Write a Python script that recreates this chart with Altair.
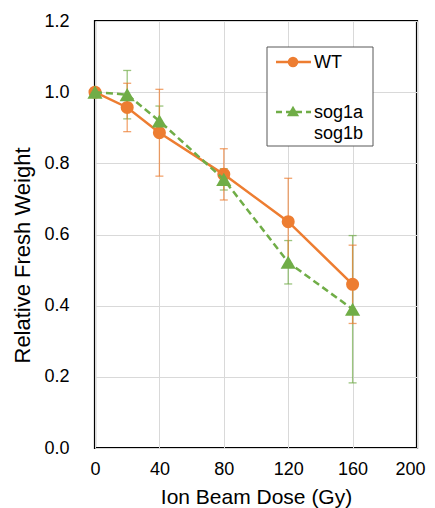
import altair as alt
import pandas as pd

dose = [0, 20, 40, 80, 120, 160]
wt = [1.0, 0.957, 0.886, 0.769, 0.636, 0.460]
wt_err = [0.0, 0.068, 0.122, 0.072, 0.122, 0.110]
sog = [1.0, 0.993, 0.919, 0.755, 0.522, 0.390]
sog_err = [0.0, 0.068, 0.042, 0.030, 0.061, 0.207]

x_ticks = [0, 40, 80, 120, 160, 200]
y_ticks = [0.0, 0.2, 0.4, 0.6, 0.8, 1.0, 1.2]

ORANGE = "#ED7D31"
GREEN = "#70AD47"
FONT = "Liberation Sans"


def frame(vals, errs):
    return pd.DataFrame({
        "dose": dose,
        "v": vals,
        "lo": [v - e for v, e in zip(vals, errs)],
        "hi": [v + e for v, e in zip(vals, errs)],
        "e": errs,
    })


df_wt = frame(wt, wt_err)
df_sog = frame(sog, sog_err)

xs = alt.Scale(domain=[0, 200], nice=False, zero=False)
ys = alt.Scale(domain=[0, 1.2], nice=False)

x_axis = alt.Axis(values=x_ticks, title="Ion Beam Dose (Gy)", grid=True, ticks=False,
                  tickSize=0, domain=False, labelPadding=12, labelFontSize=18,
                  labelFlush=False,
                  labelOffset={"condition": {"test": "datum.value == 200", "value": -7}, "value": 0},
                  titleFontSize=21, titleY=55, titleBaseline="alphabetic")
y_axis = alt.Axis(values=y_ticks, format=".1f", title="Relative Fresh Weight", grid=True,
                  ticks=False, tickSize=0, domain=False, labelPadding=26,
                  labelFontSize=18, labelFlush=False, titleFontSize=22, titleX=-66,
                  titleY=234, titleBaseline="alphabetic", titleAngle=-90)


def X():
    return alt.X("dose:Q", scale=xs, axis=x_axis)


def Y(f):
    return alt.Y(f + ":Q", scale=ys, axis=y_axis)


def series(df, color, shape, size, dash):
    base = alt.Chart(df)
    f = base.transform_filter("datum.e > 0")
    bars = f.mark_rule(color=color, strokeWidth=1.3, opacity=0.7).encode(
        x=X(), y=Y("lo"), y2="hi:Q")
    cap_lo = f.mark_tick(color=color, thickness=1.3, size=8, opacity=0.7, orient="horizontal").encode(
        x=X(), y=Y("lo"))
    cap_hi = f.mark_tick(color=color, thickness=1.3, size=8, opacity=0.7, orient="horizontal").encode(
        x=X(), y=Y("hi"))
    line_kw = dict(color=color, strokeWidth=2.5)
    if dash:
        line_kw["strokeDash"] = dash
    line = base.mark_line(**line_kw).encode(x=X(), y=Y("v"))
    pts = base.mark_point(shape=shape, size=size, filled=True, color=color, opacity=1).encode(
        x=X(), y=Y("v"))
    return bars, cap_lo, cap_hi, line, pts


wb, wl, wh, wline, wpts = series(df_wt, ORANGE, "circle", 170, None)
sb, sl, sh, sline, spts = series(df_sog, GREEN, "triangle-up", 230, [7, 4])

one = alt.Data(values=[{"a": 1}])

legend_box = alt.Chart(one).mark_rect(fill="white", stroke="#595959", strokeWidth=1).encode(
    x=alt.value(172), x2=alt.value(278), y=alt.value(26), y2=alt.value(125))
leg_wt_line = alt.Chart(one).mark_rule(color=ORANGE, strokeWidth=2.5).encode(
    x=alt.value(181), x2=alt.value(216), y=alt.value(41))
leg_wt_pt = alt.Chart(one).mark_point(shape="circle", size=110, filled=True, color=ORANGE, opacity=1).encode(
    x=alt.value(198), y=alt.value(41))
leg_wt_txt = alt.Chart(one).mark_text(text="WT", align="left", baseline="middle", fontSize=18,
                                      font=FONT, color="black").encode(
    x=alt.value(219), y=alt.value(42))
leg_s_line = alt.Chart(one).mark_rule(color=GREEN, strokeWidth=2.5, strokeDash=[6, 4]).encode(
    x=alt.value(181), x2=alt.value(216), y=alt.value(91))
leg_s_pt = alt.Chart(one).mark_point(shape="triangle-up", size=150, filled=True, color=GREEN, opacity=1).encode(
    x=alt.value(198), y=alt.value(90))
leg_s_txt1 = alt.Chart(one).mark_text(text="sog1a", align="left", baseline="middle", fontSize=18,
                                      font=FONT, color="black").encode(
    x=alt.value(219), y=alt.value(92))
leg_s_txt2 = alt.Chart(one).mark_text(text="sog1b", align="left", baseline="middle", fontSize=18,
                                      font=FONT, color="black").encode(
    x=alt.value(219), y=alt.value(113))

chart = alt.layer(
    wline, sb, sl, sh, wb, wl, wh, wpts, sline, spts,
    legend_box, leg_wt_line, leg_wt_pt, leg_wt_txt, leg_s_line, leg_s_pt, leg_s_txt1, leg_s_txt2,
).properties(
    width=322, height=427,
    autosize=alt.AutoSizeParams(type="none"),
    padding={"left": 87, "top": 13, "right": 10, "bottom": 60},
    background="white",
).configure_view(
    stroke="black", strokeWidth=2.2
).configure_axis(
    gridColor="#d9d9d9", gridWidth=1, labelFont=FONT, titleFont=FONT,
    labelColor="black", titleColor="black", titleFontWeight="normal",
)

chart.save("out.html", embed_options={"renderer": "svg", "actions": False})
